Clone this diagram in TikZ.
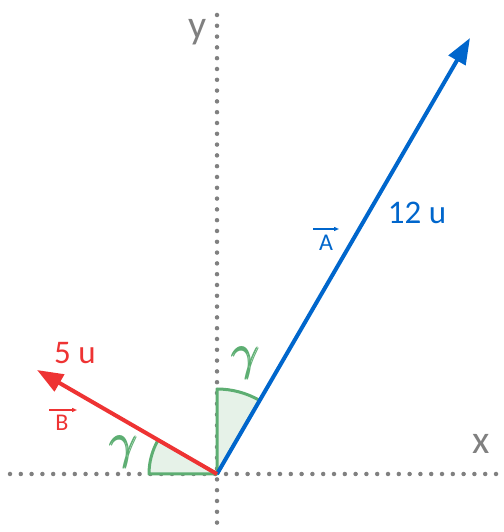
\documentclass[tikz,border=0pt]{standalone}
\usepackage{fix-cm}
\usepackage{amsmath}
\usepackage{fontspec}
\setmainfont{Carlito}
\usetikzlibrary{arrows.meta}
\definecolor{vblue}{HTML}{0066CC}
\definecolor{vred}{HTML}{EE3333}
\definecolor{gedge}{HTML}{5DAE72}
\definecolor{gfill}{HTML}{E6F2E8}
\definecolor{axgray}{HTML}{808080}
\tikzset{
  axisline/.style={draw=axgray, line width=4.5pt, line cap=round, dash pattern=on 0pt off 10.8pt},
  vec/.style={line width=4pt, -{Triangle[length=26pt,width=19pt]}},
  wedge/.style={fill=gfill, draw=gedge, line width=3pt, line join=round},
  lbl/.style={inner sep=0pt, font=\fontsize{33}{36}\selectfont},
  axlbl/.style={inner sep=0pt, text=axgray, font=\fontsize{40}{44}\selectfont},
  glbl/.style={inner sep=0pt, text=gedge, font=\fontsize{50}{54}\selectfont},
  small/.style={inner sep=0pt, font=\fontsize{24}{26}\selectfont},
}
\begin{document}
\begin{tikzpicture}[x=1pt,y=1pt]
\useasboundingbox (0,0) rectangle (503,532);
\coordinate (O) at (217,58);
\coordinate (Ytop) at (217,517);
\coordinate (Ybot) at (217,0);
\coordinate (Xl) at (10,58);
\coordinate (Xr) at (503,58);
\coordinate (Atip) at (470,494);
\coordinate (Btip) at (37,162);
% axes
\draw[axisline] (Ytop) -- (Ybot);
\draw[axisline] (Xl) -- (Xr);
% wedges
\draw[wedge] (O) -- ++(180:68) arc[start angle=180, end angle=150, radius=68] -- cycle;
\draw[wedge] (O) -- ++(90:85) arc[start angle=90, end angle=60, radius=85] -- cycle;
% vectors
\draw[vec, vblue] (O) -- (Atip);
\draw[vec, vred] (O) -- (Btip);
% labels
\node[axlbl] (ylab) at (198,500) {y};
\node[axlbl] (xlab) at (481,88) {x};
\node[lbl, text=vred] (blen) at (75,179) {5 u};
\node[lbl, text=vblue] (alen) at (417,319) {12 u};
\node[small, text=vred] (bname) at (62,109) {B};
\draw[vred, line width=1.3pt, -{Triangle[length=5pt,width=4pt]}] (49,122) -- (77,122);
\node[small, text=vblue] (aname) at (326,289) {A};
\draw[vblue, line width=1.3pt, -{Triangle[length=5pt,width=4pt]}] (313,303) -- (339,303);
\node[glbl] (g1) at (125,80) {$\pmb{\gamma}$};
\node[glbl] (g2) at (247,169) {$\pmb{\gamma}$};
\end{tikzpicture}
\end{document}
